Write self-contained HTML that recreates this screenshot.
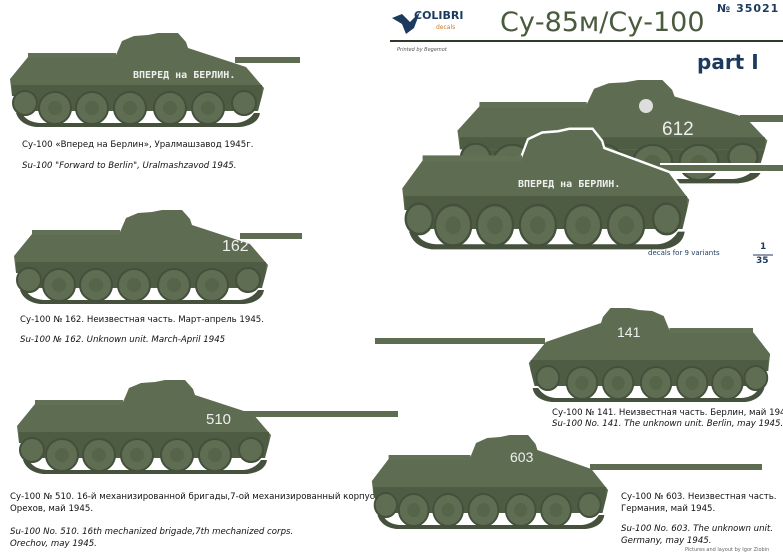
<!DOCTYPE html>
<html><head><meta charset="utf-8"><style>
html,body{margin:0;padding:0;background:#fff;}
body{width:783px;height:555px;overflow:hidden;position:relative;font-family:"DejaVu Sans","Liberation Sans",sans-serif;}
.c{position:absolute;font-size:8.6px;color:#111;white-space:nowrap;line-height:12px;}
.i{font-style:italic;}
</style></head><body>
<svg width="783" height="555" style="position:absolute;left:0;top:0" xmlns="http://www.w3.org/2000/svg">
<defs>
<g id="tk">
<path d="M2,46 L20,24 L108,22 L114,8 L126,3 L140,2 L150,0 L170,0 L178,9 L180,15 L238,34 L256,55 L254,63 L4,63 Z" fill="#5e6d51"/>
<rect x="20" y="20" width="88" height="5" fill="#627155"/>
<rect x="4" y="52" width="250" height="11" fill="#4f5c44"/>
<path d="M6,63 L254,63 L250,78 L8,78 Z" fill="#4f5c44"/>
<path d="M8,80 Q12,92 28,94 L232,94 Q250,92 252,80 L246,80 Q240,89 228,90 L32,90 Q18,89 14,80 Z" fill="#45513c"/>
<g fill="#5f6e52" stroke="#44503b" stroke-width="2">
<circle cx="47" cy="75" r="16"/><circle cx="84" cy="75" r="16"/><circle cx="122" cy="75" r="16"/><circle cx="162" cy="75" r="16"/><circle cx="200" cy="75" r="16"/>
<circle cx="17" cy="70" r="12"/><circle cx="236" cy="70" r="12"/>
</g>
<g fill="#56654a"><circle cx="47" cy="75" r="7"/><circle cx="84" cy="75" r="7"/><circle cx="122" cy="75" r="7"/><circle cx="162" cy="75" r="7"/><circle cx="200" cy="75" r="7"/></g>
</g>
</defs>
<rect x="235" y="57" width="65" height="6" fill="#5e6d51"/>
<use href="#tk" transform="translate(8,33)"/>
<text x="133" y="78" font-family="DejaVu Sans Mono,monospace" font-size="10" font-weight="bold" fill="#eee">ВПЕРЕД  на  БЕРЛИН.</text>
<rect x="240" y="233" width="62" height="6" fill="#5e6d51"/>
<use href="#tk" transform="translate(12,210)"/>
<text x="222" y="251" font-size="16" fill="#eee" font-family="Liberation Sans Narrow,Liberation Sans,sans-serif">162</text>
<rect x="240" y="411" width="158" height="6" fill="#5e6d51"/>
<use href="#tk" transform="translate(15,380)"/>
<text x="206" y="424" font-size="15" fill="#eee" font-family="Liberation Sans Narrow,Liberation Sans,sans-serif">510</text>
<rect x="375" y="338" width="170" height="6" fill="#5e6d51"/>
<use href="#tk" transform="translate(772,308) scale(-0.95,1)"/>
<text x="617" y="337" font-size="14" fill="#eee" font-family="Liberation Sans Narrow,Liberation Sans,sans-serif">141</text>
<rect x="590" y="464" width="172" height="6" fill="#5e6d51"/>
<use href="#tk" transform="translate(370,435) scale(0.93,1)"/>
<text x="510" y="462" font-size="14" fill="#eee" font-family="Liberation Sans Narrow,Liberation Sans,sans-serif">603</text>
<rect x="740" y="115" width="43" height="7" fill="#5e6d51"/>
<use href="#tk" transform="translate(455,80) scale(1.22,1.1)"/>
<circle cx="646" cy="106" r="7" fill="#ddd"/>
<text x="662" y="135" font-size="19" fill="#eee" font-family="Liberation Sans Narrow,Liberation Sans,sans-serif">612</text>
<rect x="660" y="163" width="123" height="10" fill="#fff"/>
<rect x="660" y="165" width="123" height="6" fill="#5e6d51"/>
<g transform="translate(400,130) scale(1.13,1.27)">
<path d="M2,46 L20,24 L108,22 L114,8 L126,3 L140,2 L150,0 L170,0 L178,9 L180,15 L238,34 L256,55 L254,63 L4,63 Z" fill="none" stroke="#fff" stroke-width="4"/>
</g>
<use href="#tk" transform="translate(400,130) scale(1.13,1.27)"/>
<text x="518" y="187" font-family="DejaVu Sans Mono,monospace" font-size="10" font-weight="bold" fill="#eee">ВПЕРЕД  на  БЕРЛИН.</text>
<path d="M392,18 L402,14 L410,22 L420,12 L414,28 L406,34 L402,24 Z" fill="#1c3a5e"/>
<line x1="390" y1="41" x2="783" y2="41" stroke="#2f3a2a" stroke-width="2"/>
<line x1="753" y1="255" x2="773" y2="255" stroke="#1c3a5e" stroke-width="1"/>
</svg>
<div class="c" style="left:414px;top:10px;font-size:11px;font-weight:bold;color:#1c3a5e;">COLIBRI</div>
<div class="c" style="left:436px;top:22px;font-size:6px;color:#c87b2a;">decals</div>
<div class="c" style="left:500px;top:7px;font-size:27px;line-height:32px;color:#4a5a3e;font-family:'DejaVu Sans',sans-serif;">Су-85м/Су-100</div>
<div class="c" style="left:717px;top:3px;font-size:11px;font-weight:bold;color:#1c3a5e;letter-spacing:1px;">№ 35021</div>
<div class="c" style="left:397px;top:44px;font-size:5px;font-style:italic;color:#555;">Printed by Begemot</div>
<div class="c" style="left:697px;top:51px;font-size:20px;line-height:22px;font-weight:bold;color:#1c3a5e;">part I</div>
<div class="c" style="left:648px;top:247px;font-size:7px;color:#1c3a5e;">decals for 9 variants</div>
<div class="c" style="left:760px;top:241px;font-size:9px;color:#1c3a5e;font-weight:bold;">1</div>
<div class="c" style="left:756px;top:255px;font-size:9px;color:#1c3a5e;font-weight:bold;">35</div>
<div class="c" style="left:22px;top:139px;">Су-100 «Вперед на Берлин»,  Уралмашзавод  1945г.</div>
<div class="c i" style="left:22px;top:160px;">Su-100 "Forward to Berlin", Uralmashzavod 1945.</div>
<div class="c" style="left:20px;top:314px;">Су-100 № 162. Неизвестная часть. Март-апрель  1945.</div>
<div class="c i" style="left:20px;top:334px;">Su-100 № 162. Unknown unit. March-April 1945</div>
<div class="c" style="left:10px;top:491px;">Су-100 № 510. 16-й механизированной бригады,7-ой механизированный корпус.</div>
<div class="c" style="left:10px;top:503px;">Орехов, май 1945.</div>
<div class="c i" style="left:10px;top:526px;">Su-100 No. 510. 16th mechanized brigade,7th mechanized corps.</div>
<div class="c i" style="left:10px;top:538px;">Orechov, may 1945.</div>
<div class="c" style="left:552px;top:407px;">Су-100 № 141. Неизвестная часть. Берлин, май  1945.</div>
<div class="c i" style="left:552px;top:418px;">Su-100 No. 141. The unknown unit. Berlin, may 1945.</div>
<div class="c" style="left:621px;top:491px;">Су-100 № 603. Неизвестная часть.</div>
<div class="c" style="left:621px;top:503px;">Германия, май  1945.</div>
<div class="c i" style="left:621px;top:523px;">Su-100 No. 603. The unknown unit.</div>
<div class="c i" style="left:621px;top:535px;">Germany, may 1945.</div>
<div class="c" style="left:685px;top:544px;font-size:5px;color:#666;">Pictures and layout by Igor Ziobin</div>
</body></html>
